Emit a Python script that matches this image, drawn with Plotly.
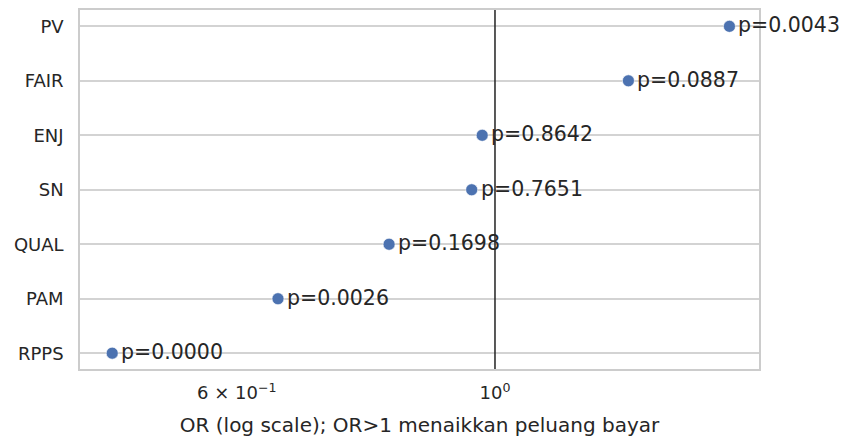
import math
import plotly.graph_objects as go

# Odds ratios per predictor (bottom to top) with their p-values
predictors = ["RPPS", "PAM", "QUAL", "SN", "ENJ", "FAIR", "PV"]
odds_ratios = [0.469, 0.651, 0.811, 0.955, 0.975, 1.302, 1.590]
p_values = [0.0000, 0.0026, 0.1698, 0.7651, 0.8642, 0.0887, 0.0043]

x_tickvals = [0.6, 1.0]
x_ticktext = ["6 × 10<sup>−1</sup>", "10<sup>0</sup>"]

FONT = "DejaVu Sans"
TEXT = "#262626"

fig = go.Figure()

fig.add_trace(go.Scatter(
    x=odds_ratios,
    y=predictors,
    mode="markers",
    marker=dict(size=12, color="#4c72b0", line=dict(color="white", width=0.6)),
    hoverinfo="x+y",
    showlegend=False,
))

# Reference line at OR = 1
fig.add_shape(type="line", xref="x", yref="paper", x0=1, x1=1, y0=0, y1=1,
              line=dict(color="#222222", width=1.5), layer="above")

# p-value labels to the right of each point (annotation x on a log axis is log10)
for orv, name, p in zip(odds_ratios, predictors, p_values):
    fig.add_annotation(x=math.log10(orv), y=name, xref="x", yref="y",
                       text=f"p={p:.4f}", showarrow=False,
                       xanchor="left", yanchor="middle", xshift=7, yshift=1,
                       font=dict(family=FONT, size=20.5, color=TEXT))

fig.update_layout(
    width=842, height=441,
    margin=dict(l=80, r=83, t=10, b=72),
    paper_bgcolor="white", plot_bgcolor="white",
    font=dict(family=FONT, color=TEXT),
    xaxis=dict(
        type="log",
        range=[-0.3565, 0.2268],
        tickvals=x_tickvals, ticktext=x_ticktext,
        tickfont=dict(size=18, color=TEXT),
        showgrid=False, zeroline=False,
        showline=True, mirror=True, linecolor="#cccccc", linewidth=1.5,
        ticks="", ticklabelstandoff=7, automargin=False,
        title=dict(text="OR (log scale); OR>1 menaikkan peluang bayar",
                   font=dict(size=20, color=TEXT), standoff=16),
    ),
    yaxis=dict(
        type="category",
        categoryorder="array", categoryarray=predictors,
        range=[-0.29, 6.3],
        tickfont=dict(size=18, color=TEXT),
        showgrid=True, gridcolor="#d3d3d3", gridwidth=1.5,
        zeroline=False, automargin=False,
        showline=True, mirror=True, linecolor="#cccccc", linewidth=1.5,
        ticks="", ticklabelstandoff=11,
    ),
)

fig.write_html("out.html")
